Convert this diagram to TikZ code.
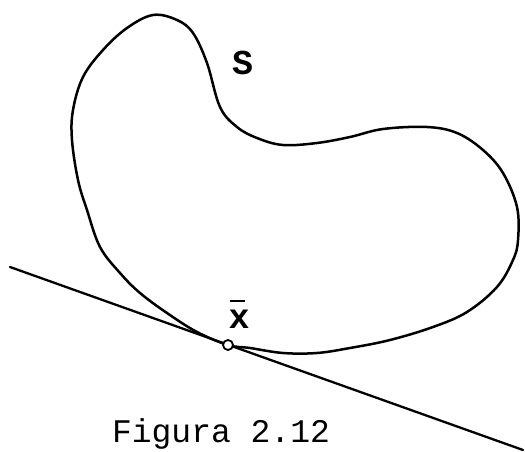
\documentclass[tikz,border=0pt]{standalone}
\usepackage{fontspec}
\setmonofont{Liberation Mono}
\begin{document}
\begin{tikzpicture}[x=1pt,y=-1pt,
  curvestyle/.style={line width=2.5pt, line join=round},
  tangentstyle/.style={line width=2.3pt, line cap=round},
  ptstyle/.style={circle, draw, fill=white, line width=1.8pt, minimum size=10pt, inner sep=0pt},
  lbl/.style={font=\fontsize{35}{40}\selectfont\ttfamily\bfseries, inner sep=0pt},
  caption/.style={font=\fontsize{33}{38}\selectfont\ttfamily, inner sep=0pt}]
\useasboundingbox (0,0) rectangle (525,452);
% set S
\draw[curvestyle] plot[smooth cycle, tension=0.6] coordinates {
 (228,345) (197,332) (167,313) (140,293) (120,273) (100,247) (87,210) (78,180)
 (72,140) (73,110) (83,77) (103,50) (127,28) (153,15) (177,20) (193,33) (207,63)
 (220,107) (237,127) (257,138) (283,145) (317,143) (350,137) (383,129) (427,127)
 (457,133) (483,150) (503,173) (517,207) (518,240) (513,260) (497,287) (467,312)
 (433,327) (390,340) (350,348) (317,353) (283,353) (250,348)};
% tangent line
\coordinate (L) at (10,267);
\coordinate (R) at (523,450);
\draw[tangentstyle] (L) -- (R);
% point x-bar
\node[ptstyle] (xbar) at (228,345) {};
\node[lbl] (xlab) at (239,319.5) {x};
\draw[line width=1.8pt] ([yshift=9pt]xlab.north west) ++(1.5,0) coordinate (b1) -- ++(15,0) coordinate (b2);
% label S
\node[lbl] (slab) at (242.5,63) {S};
% caption
\node[caption, anchor=base] (cap) at (221,442) {Figura 2.12};
\end{tikzpicture}
\end{document}
